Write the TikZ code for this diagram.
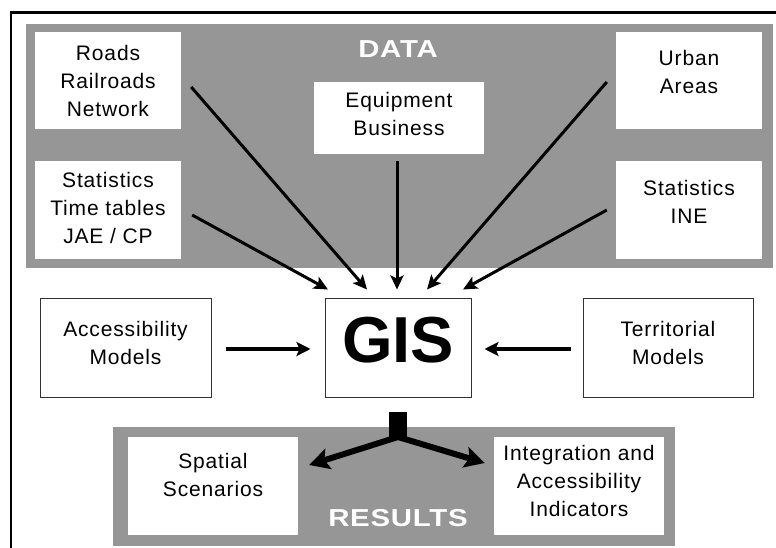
\documentclass[tikz,border=0pt]{standalone}
\usepackage{fontspec}
\setmainfont{Liberation Sans}[LetterSpace=4]
\newfontfamily\tagfont{Liberation Sans}[FakeStretch=1.2,LetterSpace=3]
\newfontfamily\bigfont{Liberation Sans}
\usetikzlibrary{arrows.meta}
\definecolor{panelgray}{RGB}{150,150,150}
\tikzset{
  databox/.style={fill=white, inner sep=0pt, align=center, minimum width=146pt, minimum height=98pt,
    font=\fontsize{21}{28}\selectfont},
  modelbox/.style={databox, draw=black!80, line width=1pt},
  panel/.style={fill=panelgray},
  tag/.style={text=white, inner sep=0pt, font=\tagfont\bfseries\fontsize{24.5}{28}\selectfont},
  feed/.style={line width=3pt, -{Stealth[length=14pt,width=13pt,inset=3pt]}},
  side/.style={line width=4pt, -{Stealth[length=14pt,width=14pt,inset=3pt]}},
  split/.style={line width=6pt, -{Stealth[length=20pt,width=21pt,inset=4pt]}}
}
\begin{document}
\begin{tikzpicture}[x=1pt,y=-1pt]
    \useasboundingbox (0,0) rectangle (776,548);
    % frame and panels
    \draw[line width=2.5pt] (776,12.5) -- (11,12.5) -- (11,548);
    \fill[panel] (26,24) rectangle (773,268);
    \fill[panel] (113,427) rectangle (675,546);
    \node[tag] (data) at (398,49.5) {DATA};
    \node[tag] (results) at (398,518) {RESULTS};

    % data sources
    \node[databox, minimum height=97pt] (roads) at (108,80.5) {Roads\\Railroads\\Network};
    \node[databox, text depth=5pt] (jae) at (108,210) {Statistics\\Time tables\\JAE / CP};
    \node[databox, minimum width=170pt, minimum height=72pt, text depth=9pt] (equip) at (399,118) {Equipment\\Business};
    \node[databox, minimum height=97pt, text depth=18pt] (urban) at (689,80.5) {Urban\\Areas};
    \node[databox, text depth=17pt] (ine) at (689,210) {Statistics\\INE};

    % models and GIS
    \node[modelbox, minimum width=171pt, minimum height=99pt, text depth=9pt] (accmod) at (125.5,347.5) {Accessibility\\Models};
    \node[modelbox, minimum height=99pt, text depth=16pt, font=\bigfont\bfseries\fontsize{65}{70}\selectfont] (gis) at (398,347.5) {GIS};
    \node[modelbox, minimum width=170pt, minimum height=99pt, text depth=9pt] (terr) at (668,347.5) {Territorial\\Models};

    % results
    \node[databox, minimum width=170pt, text depth=22pt] (spatial) at (213,486) {Spatial\\Scenarios};
    \node[databox, minimum width=170pt, text depth=11pt] (integ) at (579,486) {Integration and\\Accessibility\\Indicators};

    \draw[feed] ([xshift=10pt,yshift=-6.5pt]roads.east) -- ([xshift=-31pt,yshift=8pt]gis.north);
    \draw[feed] ([xshift=11pt,yshift=-5pt]jae.east) -- ([xshift=-70pt,yshift=8pt]gis.north);
    \draw[feed] ([xshift=-2pt,yshift=-7pt]equip.south) -- ([xshift=-1pt,yshift=8pt]gis.north);
    \draw[feed] ([xshift=-9pt,yshift=-1.5pt]urban.west) -- ([xshift=29pt,yshift=8pt]gis.north);
    \draw[feed] ([xshift=-9pt]ine.west) -- ([xshift=65pt,yshift=8pt]gis.north);

    \draw[side] ([xshift=14pt,yshift=-1.5pt]accmod.east) -- ([xshift=-14pt,yshift=-1.5pt]gis.west);
    \draw[side] ([xshift=-12pt,yshift=-1.5pt]terr.west) -- ([xshift=13pt,yshift=-1.5pt]gis.east);

    \coordinate (stub) at (398,412);
    \coordinate (fork) at (398,437);
    \draw[line width=18pt] (stub) -- ([yshift=-3pt]fork);
    \draw[split] (fork) -- ([xshift=11pt,yshift=21pt]spatial.east);
    \draw[split] (fork) -- ([xshift=-9pt,yshift=23pt]integ.west);
\end{tikzpicture}
\end{document}
